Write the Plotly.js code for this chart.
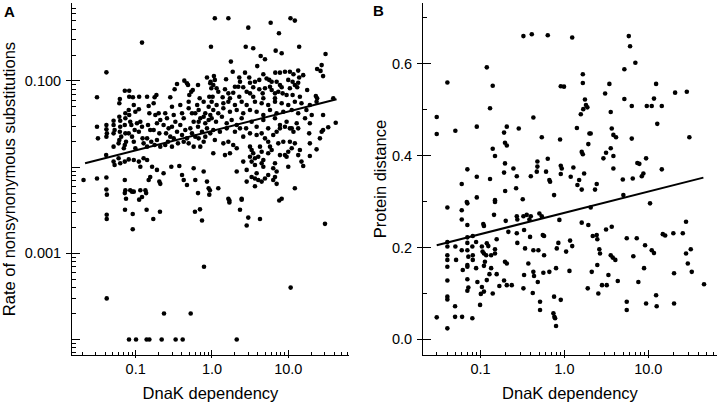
<!DOCTYPE html>
<html><head><meta charset="utf-8">
<script src="https://cdn.plot.ly/plotly-3.0.1.min.js"></script>
<style>html,body{margin:0;padding:0;background:#fff}#chart{width:720px;height:402px}</style>
</head><body><div id="chart"></div>
<script>
// ---- Panel A: DnaK dependency vs rate of nonsynonymous substitutions ----
const dnakA = [
0.121,0.0413,0.97,0.0311,0.062,0.072,0.0822,0.0822,0.092,0.111,0.141,0.177,0.187,0.284,0.324,0.348,0.434,0.47,0.485,0.504,0.535,0.56,0.656,0.69,0.86,0.95,0.98,0.922,
1.09,1.64,2.99,5.88,10.7,12.2,7.55,2.77,3.47,6.84,8.2,13.9,30.8,4.35,4.95,1.77,3.92,23.9,27.4,26.5,28.6,1.87,2.71,4.71,6.76,7.78,9.05,10.5,11.7,13.5,15.7,1.06,1.09,1.04,0.96,1.53,2.28,2.33,2.21,3.08,3.15,3.66,4.17,5.2,5.63,6.06,5.76,7.04,7.78,8.2,10,11.4,12.2,10.5,13.9,13.5,13.1,17.7,1.15,1.21,1.48,1.64,2.0,1.9,2.57,2.85,3.15,3.47,4.17,4.62,4.95,6.06,6.7,7.4,8.44,9.51,11.4,14.2,23,23.9,1.02,1.38,1.72,2.28,3.47,4.71,6.7,38.9,
0.061,0.0311,0.032,0.0413,0.0413,0.0419,0.0413,0.041,0.0513,0.0513,0.0529,0.0513,0.0513,0.061,0.0627,0.0627,0.062,0.0646,0.061,0.0597,0.0732,0.0732,0.072,0.0732,0.0747,0.072,0.0699,0.081,0.0822,0.0848,0.0877,0.081,0.0895,0.0944,0.099,0.104,0.097,0.0944,0.099,0.11,0.115,0.121,0.11,0.123,0.127,0.148,0.151,0.145,0.155,0.141,0.16,0.141,0.172,0.181,0.2,0.21,0.19,0.172,0.204,0.19,0.177,0.21,0.244,0.257,0.232,0.27,0.25,0.284,0.265,0.244,0.299,0.315,0.331,0.299,0.348,0.315,0.358,0.299,0.384,0.405,0.426,0.384,0.447,0.405,0.47,0.426,0.495,0.547,0.575,0.52,0.547,0.604,0.495,0.575,0.669,0.703,0.656,0.74,0.669,0.778,0.703,0.817,0.905,0.86,0.95,0.817,
0.0207,0.0311,0.0413,0.0413,0.0419,0.0513,0.0529,0.0597,0.0627,0.072,0.072,0.0732,0.072,0.0747,0.0848,0.0895,0.0944,0.081,0.0944,0.11,0.115,0.115,0.121,0.127,0.141,0.134,0.137,0.155,0.148,0.164,0.19,0.204,0.21,0.232,0.293,0.373,0.405,0.426,0.47,0.575,0.604,0.656,0.778,0.86,0.905,0.922,0.495,0.64,0.778,0.905,0.604,0.778,0.95,0.669,0.817,
0.99,1.15,1.41,1.64,2.0,2.45,2.85,3.66,4.48,5.46,6.7,8.2,10,12.2,14.9,19.2,23.5,
1.04,1.21,1.41,1.72,2.11,2.57,3.15,3.85,4.71,5.76,7.04,8.61,11.1,13.5,17.3,20.3,
0.99,1.13,1.35,1.56,1.81,2.11,2.45,2.8,3.31,3.85,4.71,5.46,6.7,7.78,9.51,11.1,12.9,16.6,19.2,
28.6,41.9,33.4,28.6,26,18.8,19.2,23.5,14.2,13.5,19.2,14.9,15.7,
1.04,1.27,1.56,2.0,2.33,1.09,1.41,1.64,1.9,1.04,1.48,1.72,2.11,
2.57,3.15,3.85,4.48,4.95,3.15,3.31,3.47,3.15,3.66,3.31,4.26,4.48,4.04,4.71,5.46,5.76,6.06,5.46,
6.35,7.04,7.78,9.05,10.5,11.7,13.5,7.4,8.61,10.5,12.2,11.1,10,9.05,7.78,
2.57,4.48,4.71,6.7,6.35,7.04,6.7,6.35,9.51,10,
2.11,2.85,3.66,3.85,3.31,3.66,4.04,4.48,4.95,5.46,2.85,3.66,7.04,12.2,
1.21,0.94,2.45,8.2,1.64,27.4,
0.0417,0.0417,0.0724,0.0914,0.0914,0.111,0.139,0.17,0.208,0.598,0.696,0.74,0.786,1.69,1.69,2.33,2.45,2.99,2.85,4.26,7.62,30.3,10.75,0.0417,0.235,0.526,0.0817,0.101,0.139,0.151,0.219,0.334,0.413,2.11
];
const rateA = [
0.279,0.126,0.25,0.0647,0.0618,0.0772,0.0772,0.0657,0.0647,0.0657,0.0657,0.0647,0.0688,0.0647,0.0801,0.0923,0.101,0.094,0.09,0.0688,0.0751,0.0787,0.09,0.063,0.11,0.094,0.0823,0.0657,
0.535,0.535,0.416,0.475,0.535,0.502,0.358,0.25,0.24,0.225,0.21,0.25,0.206,0.195,0.179,0.168,0.149,0.138,0.153,0.131,0.114,0.128,0.125,0.12,0.125,0.125,0.128,0.128,0.12,0.132,0.117,0.114,0.103,0.09,0.098,0.105,0.11,0.098,0.0859,0.11,0.0955,0.098,0.103,0.107,0.103,0.098,0.0859,0.098,0.09,0.0845,0.103,0.098,0.09,0.0823,0.11,0.0955,0.0845,0.0787,0.0823,0.0751,0.0801,0.0719,0.0859,0.0731,0.0845,0.0751,0.0719,0.0845,0.0801,0.0719,0.0823,0.0787,0.0719,0.0751,0.0719,0.0688,0.0688,0.0657,0.067,0.063,0.0657,0.0647,0.063,0.0657,0.0657,0.063,0.063,0.063,
0.0551,0.0295,0.0216,0.0308,0.0275,0.0247,0.0226,0.0138,0.0346,0.0308,0.027,0.0247,0.0173,0.0385,0.0346,0.0295,0.0258,0.0226,0.0207,0.0189,0.0422,0.0369,0.0308,0.0247,0.0197,0.0181,0.0166,0.0461,0.0403,0.0337,0.0308,0.0247,0.0226,0.0526,0.044,0.0323,0.027,0.0197,0.0166,0.047,0.0337,0.0295,0.0258,0.0216,0.0189,0.0513,0.0422,0.0308,0.027,0.0216,0.0197,0.0173,0.0551,0.0403,0.0422,0.0352,0.0323,0.027,0.0247,0.0207,0.0181,0.0173,0.0422,0.0369,0.0308,0.0282,0.0247,0.0226,0.0197,0.0181,0.0503,0.0403,0.0337,0.0295,0.0258,0.0216,0.0189,0.0173,0.0526,0.0422,0.0369,0.0308,0.027,0.0236,0.0216,0.0197,0.0482,0.0422,0.0337,0.0282,0.0247,0.0226,0.0189,0.0173,0.0461,0.0369,0.0295,0.0258,0.0216,0.0197,0.0173,0.0422,0.0352,0.0282,0.0247,0.0226,
0.0071,0.0074,0.0076,0.0055,0.0048,0.0116,0.0106,0.0127,0.0111,0.0116,0.0071,0.0054,0.005,0.0043,0.0054,0.0052,0.0052,0.0123,0.0121,0.0116,0.0101,0.0054,0.0045,0.0127,0.0121,0.0054,0.005,0.0077,0.0071,0.0101,0.0093,0.0068,0.0064,0.0085,0.0101,0.0103,0.0081,0.0071,0.0062,0.0097,0.0071,0.005,0.0089,0.0068,0.0057,0.0048,0.0575,0.0526,0.0575,0.0503,0.0422,0.0385,0.0403,0.0337,0.0323,
0.0575,0.0526,0.0551,0.0575,0.0526,0.0575,0.0526,0.0575,0.0551,0.0526,0.0575,0.0551,0.0526,0.0575,0.0551,0.0526,0.0575,
0.0461,0.0422,0.0482,0.044,0.0461,0.0422,0.0461,0.044,0.0403,0.0461,0.0422,0.044,0.0461,0.0422,0.0461,0.0403,
0.0369,0.0337,0.0385,0.0323,0.0352,0.0308,0.0369,0.0282,0.0337,0.0295,0.0352,0.0282,0.0369,0.0308,0.0337,0.0282,0.0323,0.0369,0.0323,
0.0403,0.0328,0.029,0.027,0.0216,0.0247,0.0189,0.0161,0.0158,0.0138,0.0135,0.0116,0.0103,
0.027,0.0258,0.0282,0.0258,0.0282,0.0207,0.0189,0.0197,0.0181,0.0145,0.0138,0.0145,0.0166,
0.0226,0.0247,0.0236,0.0247,0.0216,0.0173,0.0158,0.0145,0.0132,0.0127,0.0116,0.0173,0.0151,0.0132,0.0121,0.0197,0.0173,0.0158,0.0145,
0.0236,0.0258,0.0282,0.0295,0.0282,0.0258,0.0282,0.0189,0.0197,0.0197,0.0189,0.0166,0.0151,0.0138,0.0138,
0.0116,0.0111,0.0101,0.0111,0.0097,0.0089,0.0077,0.0071,0.0132,0.0101,
0.0089,0.0093,0.0106,0.0085,0.0077,0.0074,0.0071,0.0068,0.0074,0.0081,0.0068,0.006,0.0064,0.0057,
0.0057,0.0054,0.0043,0.0043,0.0043,0.0258,
0.0028,0.0025,0.0032,0.00286,0.0019,0.0042,0.0032,0.0025,0.00304,0.00304,0.00324,0.0024,0.0007,0.0041,0.0039,0.0032,0.0042,0.0026,0.0021,0.0025,0.0041,0.0022,0.0004,0.0003,0.0002,0.0002,0.0001,0.0001,0.0001,0.0001,0.0001,0.0001,0.0001,0.0001
];
const fitAx = [0.0217, 43];
const fitAy = [0.0111, 0.0614];

// ---- Panel B: DnaK dependency vs protein distance ----
const dnakB = [
0.0301,0.0301,0.0403,0.0502,0.0598,0.0698,0.0904,0.0904,0.0904,0.119,0.13,0.13,0.14,0.14,0.149,0.149,0.191,0.191,0.196,0.196,0.206,0.206,0.197,0.247,0.271,0.266,0.286,0.319,0.325,0.398,0.409,0.427,0.469,0.477,0.477,0.538,0.605,0.634,0.634,0.662,0.676,0.754,0.889,0.906,0.931,0.906,0.906,0.99,1.19,1.24,1.28,1.41,1.43,1.5,1.57,1.61,1.66,1.66,1.72,1.76,1.81,1.88,1.93,1.99,2.06,1.61,1.66,1.68,2.32,2.43,2.92,3.06,3.14,3.44,3.57,3.57,3.67,3.84,4.13,3.84,3.84,4.97,5.05,5.19,5.19,5.86,6.07,6.36,6.36,6.53,7.02,7.41,7.83,8.37,8.74,9.42,9.6,11,11.7,12.4,12.8,14.5,14.5,20.9,28.8,30.9,
0.0301,0.0403,0.0403,0.0403,0.0403,0.0403,0.0403,0.0403,0.0403,0.0403,0.0403,0.0498,0.0498,0.0502,0.0512,0.0598,0.0598,0.0598,0.0615,0.0604,0.0687,0.0698,0.0698,0.0698,0.0698,0.0698,0.0717,0.0698,0.0698,0.0698,0.0717,0.0698,0.081,0.08,0.081,0.081,0.08,0.0887,0.0887,0.0919,0.0989,0.101,0.104,0.106,0.11,0.117,0.113,0.11,0.104,0.11,0.108,0.11,0.119,0.124,0.119,0.128,0.134,0.134,0.14,0.149,0.145,0.149,0.149,0.156,0.168,0.156,0.191,0.206,0.2,0.196,0.206,0.215,0.236,0.271,0.271,0.275,0.331,0.331,0.275,0.325,0.356,0.383,0.39,0.42,0.325,0.34,0.372,0.398,0.427,0.427,0.435,0.482,0.513,0.504,0.538,0.49,0.513,0.553,0.573,0.573,0.562,0.662,0.74,0.76,0.775,0.796,0.754,0.796,0.812,0.848,0.872,0.906,1.05,1.15,1.17,1.24,1.61,1.9,1.93,2.06,2.18,2.12,2.43,2.47,2.47,2.54,2.61,2.66,2.81,3.14,3.2,3.57,3.77,3.67,4.05,4.33,5.54,5.54,5.54,6.64,7.29,7.62,8.91,9.16,9.42,10.5,11,11.7,12.4,12.6,14.9,15.9,19.9,20.3,20.3,25.8,28.2,28.2,29.6,32.1,33,46.2,3.35
];
const distB = [
0.484,0.447,0.559,0.454,0.338,0.37,0.463,0.354,0.309,0.592,0.503,0.349,0.552,0.415,0.399,0.303,0.45,0.363,0.383,0.428,0.422,0.463,0.323,0.372,0.355,0.329,0.459,0.305,0.66,0.355,0.664,0.483,0.365,0.376,0.387,0.44,0.365,0.662,0.393,0.347,0.343,0.314,0.435,0.378,0.372,0.36,0.551,0.55,0.354,0.657,0.374,0.46,0.336,0.347,0.49,0.326,0.577,0.558,0.361,0.522,0.51,0.505,0.425,0.448,0.448,0.408,0.403,0.501,0.326,0.338,0.394,0.535,0.406,0.556,0.495,0.416,0.459,0.445,0.44,0.399,0.372,0.348,0.314,0.588,0.523,0.66,0.638,0.508,0.437,0.35,0.602,0.384,0.382,0.355,0.361,0.394,0.508,0.508,0.524,0.556,0.469,0.508,0.37,0.537,0.539,0.44,
0.048,0.287,0.212,0.202,0.183,0.173,0.158,0.128,0.093,0.087,0.024,0.072,0.049,0.202,0.173,0.281,0.261,0.194,0.151,0.049,0.299,0.296,0.249,0.222,0.21,0.194,0.18,0.162,0.158,0.131,0.113,0.106,0.225,0.202,0.183,0.173,0.046,0.212,0.155,0.125,0.075,0.099,0.202,0.191,0.187,0.183,0.169,0.16,0.114,0.104,0.251,0.247,0.209,0.203,0.129,0.142,0.183,0.155,0.1,0.299,0.271,0.196,0.187,0.218,0.116,0.142,0.128,0.118,0.258,0.169,0.165,0.234,0.118,0.268,0.231,0.21,0.14,0.238,0.261,0.268,0.271,0.261,0.223,0.101,0.111,0.198,0.165,0.268,0.194,0.147,0.138,0.125,0.082,0.274,0.268,0.194,0.064,0.227,0.225,0.183,0.145,0.147,0.057,0.049,0.046,0.029,0.093,0.155,0.198,0.21,0.26,0.086,0.191,0.149,0.215,0.203,0.254,0.111,0.249,0.287,0.225,0.147,0.227,0.218,0.162,0.1,0.196,0.187,0.118,0.239,0.118,0.183,0.178,0.245,0.173,0.127,0.082,0.064,0.22,0.181,0.22,0.125,0.155,0.205,0.078,0.296,0.194,0.188,0.096,0.072,0.229,0.226,0.231,0.144,0.078,0.231,0.256,0.187,0.165,0.196,0.147,0.12,0.14
];
const fitBx = [0.0301, 45.4];
const fitBy = [0.205, 0.352];

// ---- Tick labels ----
const xTickVals = [0.1, 1, 10];
const xTickText = ['0.1', '1.0', '10.0'];
const yTickValsA = [0.0001, 0.001, 0.01, 0.1];
const yTickTextA = ['', '0.001', '', '0.100'];
const yLabeledA = [0.001, 0.1];
const yTickValsB = [0, 0.2, 0.4, 0.6];
const yTickTextB = ['0.0', '0.2', '0.4', '0.6'];
const yMinorB = [0.1, 0.3, 0.5, 0.7];

const minorLogX = [];
for (let d = -2; d <= 1; d++) for (let k = 2; k <= 9; k++) minorLogX.push(k * Math.pow(10, d));
const minorLogY = [];
for (let d = -5; d <= -1; d++) for (let k = 2; k <= 9; k++) minorLogY.push(k * Math.pow(10, d));

const FONT = 'Liberation Sans, Arial, Helvetica, sans-serif';
const BLACK = '#000';
const XRA = [-1.835, 1.796], YRA = [-4.18, -0.095];
const XRB = [-1.685, 1.819], YRB = [-0.034, 0.732];
const DXA = [0.1, 0.4847], DXB = [0.5875, 0.9958], DY = [0.1169, 0.9925];

function axBase(extra) {
  return Object.assign({
    showline: true, linecolor: BLACK, linewidth: 1, showgrid: false, zeroline: false,
    tickcolor: BLACK, tickwidth: 1, automargin: false,
    tickfont: {family: FONT, size: 14.5, color: BLACK}
  }, extra);
}
function overlay(extra) {
  return Object.assign({
    showline: false, showgrid: false, zeroline: false, showticklabels: false,
    ticks: 'outside', tickcolor: BLACK, tickwidth: 1, tickmode: 'array', automargin: false
  }, extra);
}

const mk = {size: 4.6, color: BLACK, line: {width: 0}};
const data = [
  {type: 'scatter', mode: 'markers', x: dnakA, y: rateA, xaxis: 'x', yaxis: 'y', marker: mk, hoverinfo: 'skip'},
  {type: 'scatter', mode: 'lines', x: fitAx, y: fitAy, xaxis: 'x', yaxis: 'y', line: {color: BLACK, width: 2}, hoverinfo: 'skip'},
  {type: 'scatter', mode: 'markers', x: dnakB, y: distB, xaxis: 'x2', yaxis: 'y2', marker: mk, hoverinfo: 'skip'},
  {type: 'scatter', mode: 'lines', x: fitBx, y: fitBy, xaxis: 'x2', yaxis: 'y2', line: {color: BLACK, width: 2}, hoverinfo: 'skip'},
  {type: 'scatter', mode: 'markers', x: [], y: [], xaxis: 'x3', yaxis: 'y', hoverinfo: 'skip'},
  {type: 'scatter', mode: 'markers', x: [], y: [], xaxis: 'x', yaxis: 'y3', hoverinfo: 'skip'},
  {type: 'scatter', mode: 'markers', x: [], y: [], xaxis: 'x4', yaxis: 'y2', hoverinfo: 'skip'},
  {type: 'scatter', mode: 'markers', x: [], y: [], xaxis: 'x2', yaxis: 'y4', hoverinfo: 'skip'}
];

const titleFont = {family: FONT, size: 16.5, color: BLACK};
const layout = {
  width: 720, height: 402,
  margin: {l: 0, r: 0, t: 0, b: 0},
  paper_bgcolor: '#fff', plot_bgcolor: '#fff',
  showlegend: false,
  xaxis: axBase({domain: DXA, anchor: 'y', type: 'log', range: XRA,
    tickmode: 'array', tickvals: xTickVals, ticktext: xTickText, ticks: 'inside', ticklen: 5,
    ticklabelstandoff: 1,
    minor: {tickmode: 'array', tickvals: minorLogX, ticks: 'inside', ticklen: 3, tickcolor: BLACK, tickwidth: 1, showgrid: false},
    title: {text: 'DnaK dependency', font: titleFont}}),
  yaxis: axBase({domain: DY, anchor: 'x', type: 'log', range: YRA,
    tickmode: 'array', tickvals: yTickValsA, ticktext: yTickTextA, ticks: 'inside', ticklen: 8,
    ticklabelstandoff: 7,
    minor: {tickmode: 'array', tickvals: minorLogY, ticks: 'inside', ticklen: 4, tickcolor: BLACK, tickwidth: 1, showgrid: false},
    title: {text: 'Rate of nonsynonymous substitutions', font: titleFont, standoff: 6}}),
  xaxis2: axBase({domain: DXB, anchor: 'y2', type: 'log', range: XRB,
    tickmode: 'array', tickvals: xTickVals, ticktext: xTickText, ticks: 'inside', ticklen: 5,
    ticklabelstandoff: 1,
    minor: {tickmode: 'array', tickvals: minorLogX, ticks: 'inside', ticklen: 3, tickcolor: BLACK, tickwidth: 1, showgrid: false},
    title: {text: 'DnaK dependency', font: titleFont}}),
  yaxis2: axBase({domain: DY, anchor: 'x2', range: YRB,
    tickmode: 'array', tickvals: yTickValsB, ticktext: yTickTextB, ticks: 'inside', ticklen: 8,
    ticklabelstandoff: 7,
    minor: {tickmode: 'array', tickvals: yMinorB, ticks: 'inside', ticklen: 4, tickcolor: BLACK, tickwidth: 1, showgrid: false},
    title: {text: 'Protein distance', font: titleFont, standoff: 1}}),
  xaxis3: overlay({overlaying: 'x', anchor: 'y', type: 'log', range: XRA, tickvals: xTickVals, ticklen: 2}),
  yaxis3: overlay({overlaying: 'y', anchor: 'x', type: 'log', range: YRA, tickvals: yLabeledA, ticklen: 5}),
  xaxis4: overlay({overlaying: 'x2', anchor: 'y2', type: 'log', range: XRB, tickvals: xTickVals, ticklen: 2}),
  yaxis4: overlay({overlaying: 'y2', anchor: 'x2', range: YRB, tickvals: yTickValsB, ticklen: 5}),
  annotations: [
    {text: '<b>A</b>', xref: 'paper', yref: 'paper', x: 9.2 / 720, y: 1 - 11 / 402, xanchor: 'center', yanchor: 'middle', showarrow: false, font: {family: FONT, size: 15, color: BLACK}},
    {text: '<b>B</b>', xref: 'paper', yref: 'paper', x: 378.3 / 720, y: 1 - 10.5 / 402, xanchor: 'center', yanchor: 'middle', showarrow: false, font: {family: FONT, size: 15, color: BLACK}}
  ]
};

Plotly.newPlot('chart', data, layout, {staticPlot: true, displayModeBar: false});
</script>
</body></html>
